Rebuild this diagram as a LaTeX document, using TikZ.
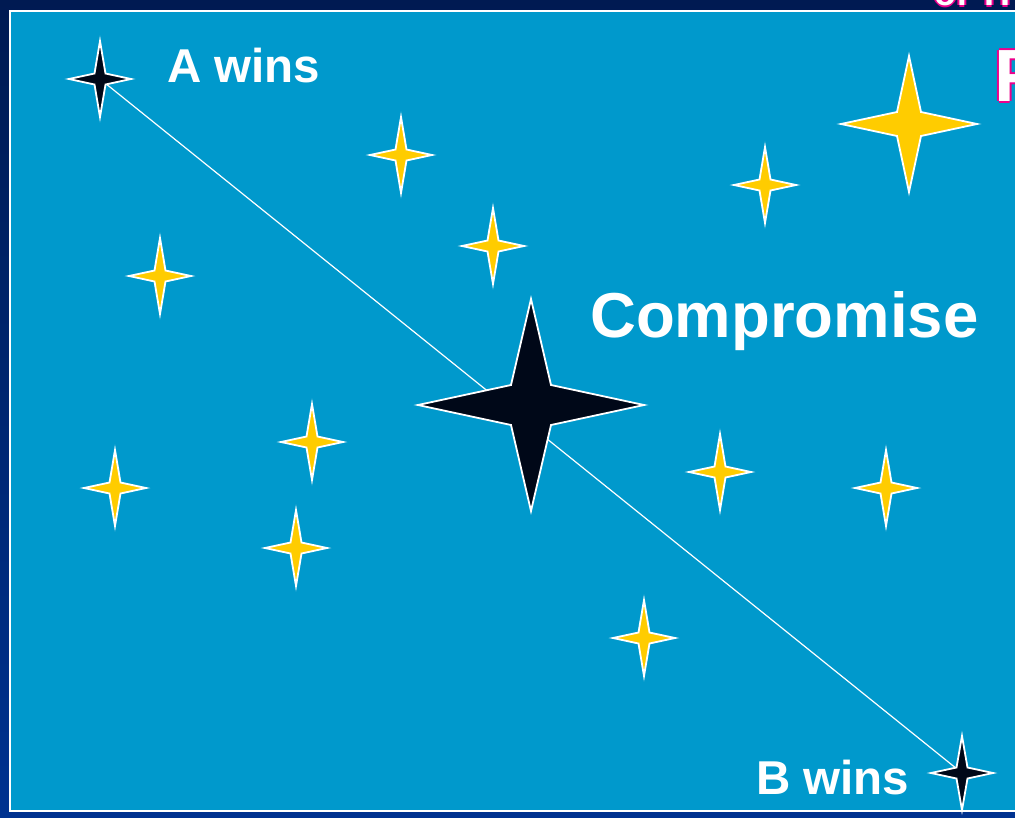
\documentclass[tikz,border=0pt]{standalone}
\usepackage{fontspec}
\setmainfont{Liberation Sans}
\begin{document}
\begin{tikzpicture}[x=1pt,y=-1pt,
  pics/fourstar/.style n args={4}{code={
    \filldraw[fill=#4,draw=white,line width=1.8pt,line join=miter]
      (0,-#2) -- (#3,-#3) -- (#1,0) -- (#3,#3) -- (0,#2) -- (-#3,#3) -- (-#1,0) -- (-#3,-#3) -- cycle;}},
  lbl/.style={text=white,font=\bfseries\fontsize{47.5}{50}\selectfont,inner sep=0pt,anchor=base west},
  ttl/.style={text=white,font=\bfseries\fontsize{74}{76}\selectfont,inner sep=0pt,anchor=base west},
  ttlo/.style={text=magenta,font=\bfseries\fontsize{74}{76}\selectfont,inner sep=0pt,anchor=base west},
  tts/.style={font=\bfseries\fontsize{36}{38}\selectfont,inner sep=0pt,anchor=base west},
  conn/.style={draw=white,line width=1.2pt}]
\definecolor{navytop}{HTML}{001A52}
\definecolor{navybot}{HTML}{003290}
\definecolor{panel}{HTML}{0099CC}
\definecolor{stary}{HTML}{FFCC00}
\definecolor{stark}{HTML}{000818}
\useasboundingbox (0,0) rectangle (1015,817);
\shade[top color=navytop,bottom color=navybot] (0,0) rectangle (1015,817);
\filldraw[fill=panel,draw=white,line width=2pt] (10,11) rectangle (1030,811);
% title fragments (cut off at the edges)
\foreach \dx/\dy in {-2/0,2/0,0/-2,0/2}{
  \node[tts,text=magenta] at ([shift={(\dx,\dy)}]934,5) {of TH};
  \node[ttlo] at ([shift={(\dx,\dy)}]994,101) {F};
}
\node[tts,text=white] (ttop) at (934,5) {of TH};
\node[ttl] (tf) at (994,101) {F};
% star positions
\coordinate (A) at (100,79);
\coordinate (B) at (962,773);
\coordinate (C) at (531,405);
\draw[conn] (A) -- (B);
\pic at (A) {fourstar={31}{38}{5.5}{stark}};
\pic at (B) {fourstar={31}{37}{5.5}{stark}};
\pic at (C) {fourstar={113}{106}{20}{stark}};
\pic at (909,124) {fourstar={68}{68}{12}{stary}};
\foreach \x/\y in {401/155,765/185,493/246,160/276,312/442,115/488,720/472,886/488,296/548,644/638}
  \pic at (\x,\y) {fourstar={31}{38}{5.5}{stary}};
\node[lbl] (awins) at (167,82) {A wins};
\node[lbl] (bwins) at (756,794) {B wins};
\node[lbl,font=\bfseries\fontsize{63.5}{66}\selectfont] (comp) at (590,337) {Compromise};
\end{tikzpicture}
\end{document}
